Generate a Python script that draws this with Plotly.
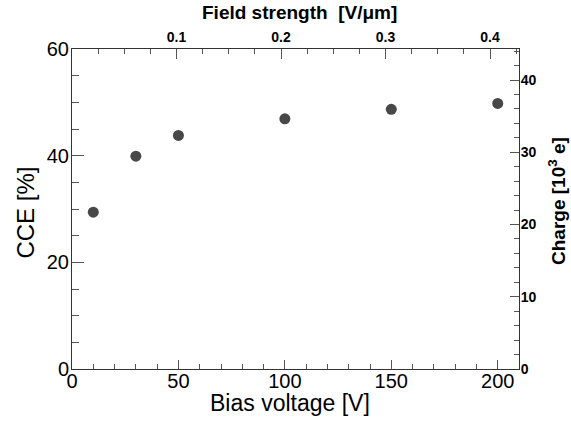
import plotly.graph_objects as go

# Bias scan, CCE
BIAS_V = [10, 30, 50, 100, 150, 200]
CCE_PCT = [29.4, 39.9, 43.8, 46.9, 48.7, 49.8]

BIAS_RANGE = [0, 210]
CCE_RANGE = [0, 60]
FIELD_RANGE = [0, 0.4277]
CHARGE_RANGE = [0, 44.3]
FIELD_TICKS = [0.1, 0.2, 0.3, 0.4]

FONT = "Liberation Sans, Arial, Helvetica, sans-serif"
INK = "#000000"
FRAME = "#333333"
TICK = "#555555"
MARKER = "#484848"

fig = go.Figure()
fig.add_trace(
    go.Scatter(
        x=BIAS_V,
        y=CCE_PCT,
        mode="markers",
        marker=dict(color=MARKER, size=11, line=dict(width=0)),
        hoverinfo="skip",
        showlegend=False,
    )
)
# empty holder so the top/right axes get drawn
fig.add_trace(
    go.Scatter(
        x=FIELD_RANGE,
        y=CHARGE_RANGE,
        xaxis="x2",
        yaxis="y2",
        mode="markers",
        marker=dict(opacity=0),
        hoverinfo="skip",
        showlegend=False,
    )
)

common = dict(
    showline=True,
    linecolor=FRAME,
    linewidth=1,
    ticks="inside",
    tickcolor=TICK,
    showgrid=False,
    zeroline=False,
    fixedrange=True,
)

fig.update_layout(
    width=571,
    height=423,
    margin=dict(l=72, r=52, t=49, b=54),
    paper_bgcolor="white",
    plot_bgcolor="white",
    font=dict(family=FONT, color=INK),
    showlegend=False,
    xaxis=dict(
        range=BIAS_RANGE,
        tickmode="linear",
        tick0=0,
        dtick=50,
        ticklen=9,
        tickfont=dict(size=20),
        ticklabelstandoff=-6,
        minor=dict(tickmode="linear", tick0=0, dtick=10, ticks="inside",
                   ticklen=5, tickcolor=TICK),
        **common,
    ),
    yaxis=dict(
        range=CCE_RANGE,
        tickmode="linear",
        tick0=0,
        dtick=20,
        ticklen=12,
        tickfont=dict(size=20),
        ticklabelstandoff=-2,
        minor=dict(tickmode="linear", tick0=0, dtick=5, ticks="inside",
                   ticklen=7, tickcolor=TICK),
        **common,
    ),
    xaxis2=dict(
        overlaying="x",
        side="top",
        range=FIELD_RANGE,
        tickmode="array",
        tickvals=FIELD_TICKS,
        ticktext=[f"{v:.1f}" for v in FIELD_TICKS],
        ticklen=10,
        tickfont=dict(size=14, weight="bold"),
        minor=dict(tickmode="linear", tick0=0, dtick=0.025, ticks="inside",
                   ticklen=5, tickcolor=TICK),
        **common,
    ),
    yaxis2=dict(
        overlaying="y",
        side="right",
        range=CHARGE_RANGE,
        tickmode="linear",
        tick0=0,
        dtick=10,
        ticklen=9,
        tickfont=dict(size=14, weight="bold"),
        ticklabelstandoff=-2,
        minor=dict(tickmode="linear", tick0=0, dtick=2, ticks="inside",
                   ticklen=5, tickcolor=TICK),
        **common,
    ),
)

# axis titles placed like the ROOT canvas
titles = [
    ("CCE [%]", -0.106, 0.4875, -90, 24, "normal"),
    ("Bias voltage [V]", 0.4876, -0.106, 0, 23, "normal"),
    ("Charge [10<sup>3</sup> e]", 1.085, 0.525, -90, 19, "bold"),
    ("Field strength\u00a0 [V/\u03bcm]", 0.51, 1.1125, 0, 19, "bold"),
]
for text, x, y, angle, size, weight in titles:
    fig.add_annotation(
        text=text,
        xref="paper",
        yref="paper",
        x=x,
        y=y,
        xanchor="center",
        yanchor="middle",
        textangle=angle,
        showarrow=False,
        font=dict(size=size, weight=weight, color=INK),
    )

# drop the default 8px page margin so the canvas sits at the window corner
fig.write_html(
    "out.html",
    config={"displayModeBar": False},
    post_script="document.body.style.margin='0';document.body.style.overflow='hidden';",
)
